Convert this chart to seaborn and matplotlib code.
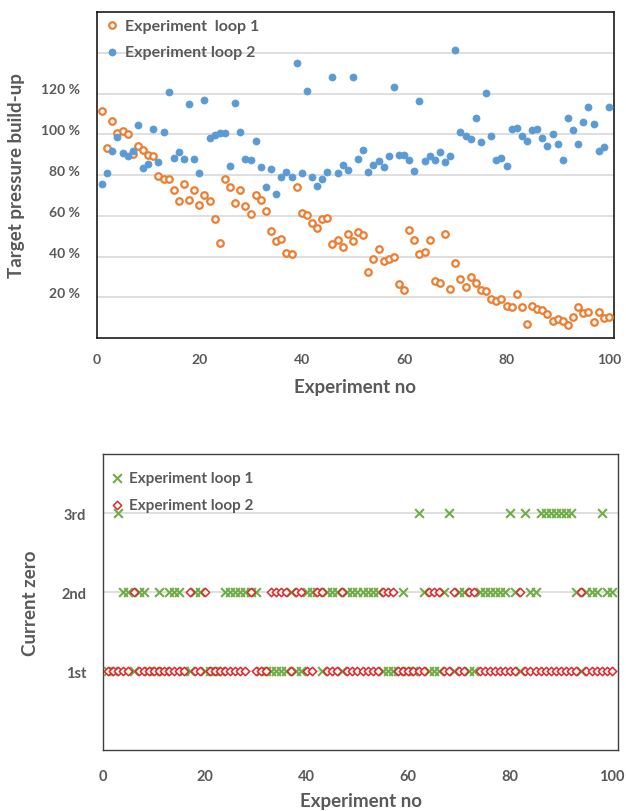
import matplotlib
matplotlib.use("Agg")
import matplotlib.pyplot as plt
import matplotlib.transforms as mtransforms
import seaborn as sns
import numpy as np
import pandas as pd

# ---------------- data ----------------
experiment_no = list(range(1, 101))

pressure_loop1 = [111.6, 93.3, 106.4, 100.7, 101.7, 99.9, 90.5, 94.3, 92.2, 89.9,
                  89.2, 79.5, 78.2, 78.2, 72.4, 67.2, 75.5, 67.7, 72.4, 65.1,
                  70.3, 67.2, 58.2, 46.5, 78.2, 74.3, 66.1, 72.4, 64.8, 60.8,
                  70.0, 67.8, 62.5, 52.6, 47.8, 48.8, 41.9, 41.0, 74.3, 61.3,
                  60.5, 56.6, 54.0, 58.2, 59.0, 46.2, 48.0, 44.9, 51.0, 47.5,
                  52.2, 50.6, 32.3, 38.8, 43.6, 37.8, 38.7, 39.6, 26.3, 23.6,
                  53.0, 48.3, 41.0, 42.2, 48.3, 28.0, 26.8, 50.9, 24.1, 36.6,
                  29.2, 25.0, 29.7, 27.1, 23.8, 23.0, 18.9, 18.1, 19.1, 15.5,
                  15.2, 21.5, 15.2, 6.9, 15.8, 14.2, 13.9, 11.6, 8.2, 9.3,
                  8.2, 6.4, 10.4, 15.2, 12.1, 12.9, 7.7, 12.6, 9.8, 10.4]

pressure_loop2 = [75.7, 80.8, 92.0, 98.5, 90.7, 89.1, 91.7, 104.3, 83.4, 85.2,
                  102.6, 86.5, 101.2, 120.6, 88.1, 91.2, 87.8, 115.0, 87.8, 80.8,
                  116.6, 98.0, 99.4, 100.7, 100.7, 84.3, 115.4, 101.2, 87.8, 87.3,
                  96.9, 83.7, 74.2, 82.7, 70.5, 79.1, 81.3, 79.1, 134.9, 81.2,
                  121.0, 79.1, 74.7, 77.8, 81.6, 127.9, 80.8, 85.0, 82.4, 127.9,
                  87.8, 92.5, 81.6, 85.0, 86.8, 83.8, 89.4, 123.2, 89.7, 89.7,
                  87.3, 82.1, 116.2, 86.8, 89.1, 87.3, 91.2, 86.3, 89.4, 141.3,
                  101.2, 99.0, 97.7, 108.0, 96.4, 120.3, 99.0, 87.3, 88.1, 84.3,
                  102.8, 103.3, 99.0, 96.8, 102.0, 102.8, 98.0, 94.1, 100.2, 95.4,
                  87.3, 108.0, 102.0, 95.4, 105.9, 113.2, 105.1, 92.0, 93.8, 113.2]

# current zero (1 = 1st, 2 = 2nd, 3 = 3rd)
loop1_third = [3, 62, 68, 80, 83, 86, 87, 88, 89, 90, 91, 92, 98]
loop1_second = [4, 5, 7, 8, 11, 13, 14, 15, 18, 19, 24, 25, 26, 27, 28, 29, 30,
                37, 40, 41, 42, 44, 45, 46, 48, 49, 50, 51, 52, 53, 54, 59, 63,
                67, 70, 71, 74, 75, 76, 77, 78, 79, 81, 84, 85, 93, 95, 96, 97,
                99, 100]
loop2_second = [6, 17, 20, 29, 33, 34, 35, 36, 38, 39, 42, 43, 47, 55, 56, 57,
                64, 65, 66, 69, 72, 73, 82, 94]

current_loop1 = [3 if n in loop1_third else (2 if n in loop1_second else 1)
                 for n in experiment_no]
current_loop2 = [2 if n in loop2_second else 1 for n in experiment_no]

x_ticks = [0, 20, 40, 60, 80, 100]
y_ticks_pct = [20, 40, 60, 80, 100, 120]
y_grid_pct = [20, 40, 60, 80, 100, 120, 140]
current_ticks = [1, 2, 3]
current_labels = ["1st", "2nd", "3rd"]

# ---------------- style ----------------
sns.set_theme(style="white")
plt.rcParams['font.family'] = ['Lato', 'DejaVu Sans']
plt.rcParams['font.weight'] = 'bold'
GREY = "#595959"
ORANGE = "#ED7D31"
BLUE = "#5B9BD5"
GREEN = "#70AD47"
RED = "#E0262B"
GRID = "#D9D9D9"

fig = plt.figure(figsize=(6.26, 8.12), dpi=100)

# ---------------- top chart ----------------
ax1 = fig.add_axes([97 / 626, 1 - 339 / 812, (614 - 97) / 626, (339 - 13) / 812])
df1 = pd.DataFrame({"n": experiment_no, "l1": pressure_loop1, "l2": pressure_loop2})
sns.scatterplot(data=df1, x="n", y="l1", ax=ax1, marker="o", s=22,
                facecolor="white", edgecolor=ORANGE, linewidth=1.6,
                label="Experiment  loop 1", zorder=3)
sns.scatterplot(data=df1, x="n", y="l2", ax=ax1, marker="o", s=26,
                color=BLUE, edgecolor=BLUE, linewidth=0.5,
                label="Experiment loop 2", zorder=3)
ax1.set_xlim(0, 101)
ax1.set_ylim(0, 160)
for g in y_grid_pct:
    ax1.axhline(g, color=GRID, lw=1.2, zorder=1)
ax1.set_xticks(x_ticks)
ax1.set_xticklabels([str(t) for t in x_ticks])
ax1.set_yticks(y_ticks_pct)
ax1.set_yticklabels([f"{t} %" for t in y_ticks_pct])
ax1.tick_params(axis="both", length=0, labelsize=10, labelcolor=GREY)
ax1.tick_params(axis="y", pad=12)
ax1.tick_params(axis="x", pad=11)
shift_up = mtransforms.ScaledTranslation(0, 5 / 100, fig.dpi_scale_trans)
for lab in ax1.get_yticklabels():
    lab.set_transform(lab.get_transform() + shift_up)
ax1.set_xlabel("Experiment no", fontsize=13.5, color=GREY, fontweight="bold", labelpad=9)
ax1.set_ylabel("Target pressure build-up", fontsize=13.5, color=GREY, fontweight="bold", labelpad=12)
for sp in ax1.spines.values():
    sp.set_color("#1a1a1a")
    sp.set_linewidth(1.2)
leg1 = ax1.legend(loc="upper left", bbox_to_anchor=(-0.005, 1.005), frameon=False,
                  fontsize=11.5, handletextpad=0.2, labelspacing=0.75,
                  handlelength=1.2, borderaxespad=0.3, borderpad=0.2)
for t in leg1.get_texts():
    t.set_color(GREY)
    t.set_fontweight("bold")

# ---------------- bottom chart ----------------
ax2 = fig.add_axes([103 / 626, 1 - 751 / 812, (618 - 103) / 626, (751 - 455) / 812])
df2 = pd.DataFrame({"n": experiment_no, "c1": current_loop1, "c2": current_loop2})
for r in current_ticks:
    ax2.axhline(r, color=GRID, lw=1.2, zorder=1)
sns.scatterplot(data=df2, x="n", y="c1", ax=ax2, marker="x", s=40,
                color=GREEN, linewidth=1.5, label="Experiment loop 1", zorder=3)
sns.scatterplot(data=df2, x="n", y="c2", ax=ax2, marker="D", s=18,
                facecolor="white", edgecolor=RED, linewidth=1.1,
                label="Experiment loop 2", zorder=4)
ax2.set_xlim(0, 101.2)
ax2.set_ylim(0, 3.747)
ax2.set_xticks(x_ticks)
ax2.set_xticklabels([str(t) for t in x_ticks])
ax2.set_yticks(current_ticks)
ax2.set_yticklabels(current_labels)
ax2.tick_params(axis="both", length=0, labelsize=10.5, labelcolor=GREY)
ax2.tick_params(axis="y", pad=12)
ax2.tick_params(axis="x", pad=14)
ax2.set_xlabel("Experiment no", fontsize=13.5, color=GREY, fontweight="bold", labelpad=6)
ax2.set_ylabel("Current zero", fontsize=13.5, color=GREY, fontweight="bold", labelpad=16)
for sp in ax2.spines.values():
    sp.set_color("#404040")
    sp.set_linewidth(1.0)
leg2 = ax2.legend(loc="upper left", bbox_to_anchor=(-0.014, 0.985), frameon=False,
                  fontsize=11, handletextpad=0.2, labelspacing=0.9,
                  handlelength=1.2, borderaxespad=0.5, borderpad=0.3)
for t in leg2.get_texts():
    t.set_color(GREY)
    t.set_fontweight("bold")

fig.savefig("out.png", dpi=100)
